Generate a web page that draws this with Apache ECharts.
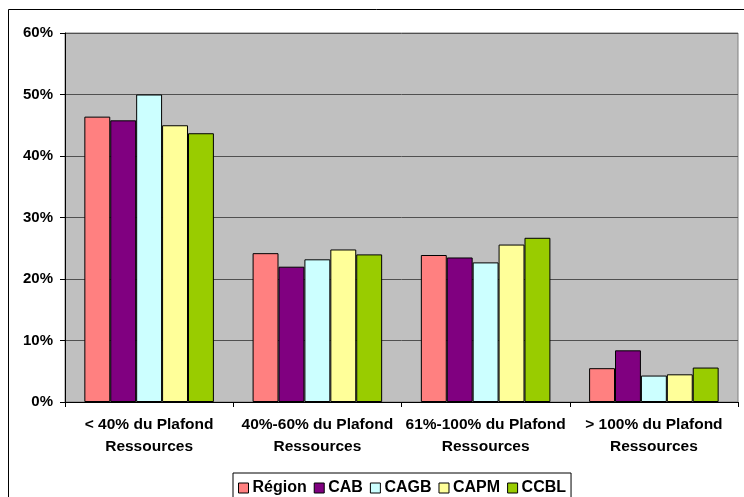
<!DOCTYPE html>
<html>
<head>
<meta charset="utf-8">
<script src="https://cdn.jsdelivr.net/npm/echarts@6/dist/echarts.min.js"></script>
<style>
  html, body { margin: 0; padding: 0; background: #fff; }
  #chart { width: 744px; height: 497px; }
</style>
</head>
<body>
<div id="chart"></div>
<script>
// categories and values (percent)
var categories = [
  '< 40% du Plafond\nRessources',
  '40%-60% du Plafond\nRessources',
  '61%-100% du Plafond\nRessources',
  '> 100% du Plafond\nRessources'
];
var seriesNames = ['Région', 'CAB', 'CAGB', 'CAPM', 'CCBL'];
var region = [46.4, 24.2, 23.9, 5.5];
var cab = [45.8, 22.0, 23.5, 8.4];
var cagb = [50.0, 23.2, 22.7, 4.3];
var capm = [45.0, 24.8, 25.6, 4.5];
var ccbl = [43.7, 24.0, 26.7, 5.6];

var colors = ['#FF8080', '#800080', '#CCFFFF', '#FFFF99', '#99CC00'];
var values = [region, cab, cagb, capm, ccbl];

var chart = echarts.init(document.getElementById('chart'));

var series = seriesNames.map(function (name, i) {
  return {
    name: name,
    type: 'bar',
    data: values[i],
    barGap: '0%',
    barCategoryGap: '23%',
    itemStyle: { color: colors[i], borderColor: '#000', borderWidth: 1 }
  };
});

var option = {
  animation: false,
  textStyle: { fontFamily: 'Liberation Sans, Arial, sans-serif' },
  graphic: [{
    type: 'rect',
    shape: { x: 8.5, y: 9.5, width: 800, height: 600 },
    style: { fill: 'none', stroke: '#000', lineWidth: 1 },
    z: -1
  }],
  legend: {
    top: 473,
    left: 233,
    itemWidth: 10,
    itemHeight: 10,
    itemGap: 7,
    padding: [7, 5, 6, 5],
    backgroundColor: '#fff',
    borderColor: '#000',
    borderWidth: 1,
    textStyle: { fontWeight: 'bold', fontSize: 16, color: '#000', padding: [0, 0, 0, -1] },
    itemStyle: { borderColor: '#000', borderWidth: 1 },
    data: seriesNames.map(function (n) { return { name: n, icon: 'rect' }; })
  },
  grid: {
    left: 65,
    top: 33,
    width: 673,
    height: 369,
    show: true,
    backgroundColor: '#C0C0C0',
    borderColor: '#808080',
    borderWidth: 1
  },
  xAxis: {
    type: 'category',
    data: categories,
    axisLine: { lineStyle: { color: '#000' } },
    axisTick: { show: true, length: 5, alignWithLabel: false, lineStyle: { color: '#000' } },
    axisLabel: {
      color: '#000',
      fontWeight: 'bold',
      fontSize: 15.5,
      lineHeight: 22,
      margin: 12,
      interval: 0
    }
  },
  yAxis: {
    type: 'value',
    min: 0,
    max: 60,
    interval: 10,
    axisLine: { show: true, lineStyle: { color: '#000' } },
    axisTick: { show: true, length: 5, lineStyle: { color: '#000' } },
    axisLabel: {
      color: '#000',
      fontWeight: 'bold',
      fontSize: 15,
      margin: 12,
      formatter: '{value}%'
    },
    splitLine: { lineStyle: { color: '#505050', width: 1 } }
  },
  series: series
};

chart.setOption(option);
</script>
</body>
</html>
